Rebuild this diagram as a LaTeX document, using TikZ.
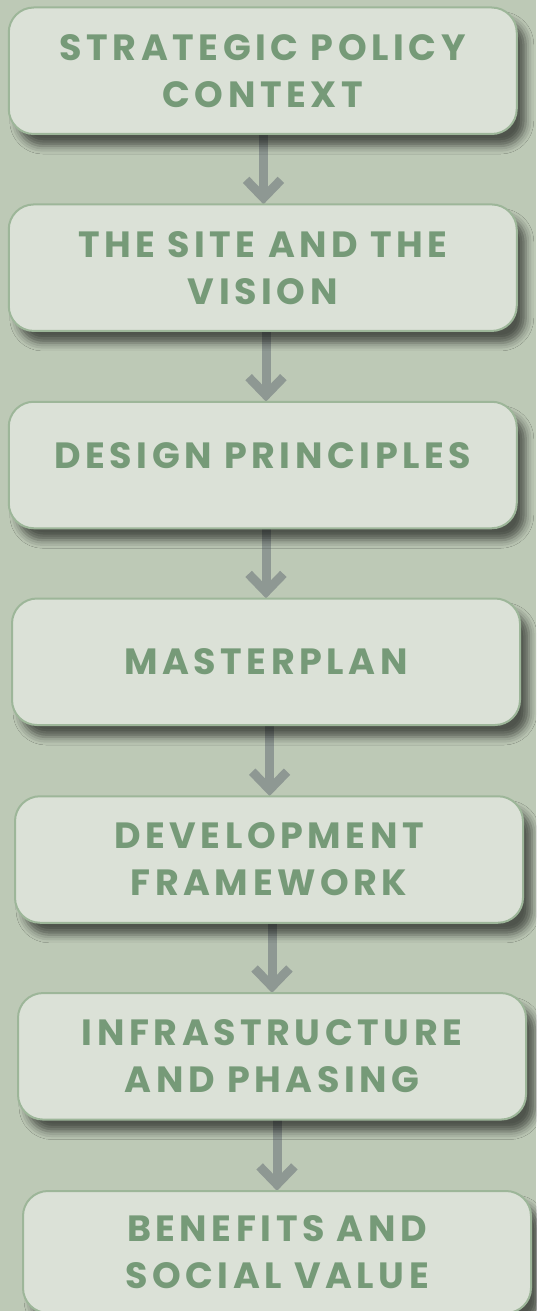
\documentclass[tikz,border=0pt]{standalone}
\usepackage{fontspec}
\setmainfont{Poppins}[LetterSpace=12.5]
\usetikzlibrary{calc,shadows.blur}
\definecolor{bgc}{HTML}{BDC9B6}
\definecolor{boxfill}{HTML}{DBE1D7}
\definecolor{boxline}{HTML}{9DB699}
\definecolor{txtc}{HTML}{769A78}
\definecolor{arrc}{HTML}{8E9893}
\tikzset{
  stagebox/.style={draw=boxline, line width=2pt, fill=boxfill, rounded corners=25pt,
    minimum width=508pt, minimum height=126.5pt, inner sep=0pt, align=center,
    text=txtc, font=\fontsize{36.5}{47}\selectfont\bfseries,
    blur shadow={shadow xshift=9pt, shadow yshift=-12pt, shadow blur radius=8pt, shadow opacity=58}},
  stemline/.style={draw=arrc, line width=9pt, line cap=butt},
  barbline/.style={draw=arrc, line width=9pt, line cap=butt, line join=miter},
}
\newcommand\flowarrow[3]{%
  \path (#2.north -| #3) coordinate (tipc);
  \draw[stemline] (#1.south -| #3) -- ($(tipc)+(0,-6.4)$);
  \draw[barbline] ($(tipc)+(-17.4,-24.4)$) -- ($(tipc)+(0,-6.4)$) -- ($(tipc)+(17.4,-24.4)$);
}
\begin{document}
\begin{tikzpicture}[x=1pt,y=-1pt]
\fill[bgc] (0,0) rectangle (536,1311);
\useasboundingbox (0,0) rectangle (536,1311);
% arrow x positions
\coordinate (x1) at (263.5,0);
\coordinate (x2) at (266,0);
\coordinate (x3) at (266,0);
\coordinate (x4) at (269.6,0);
\coordinate (x5) at (272,0);
\coordinate (x6) at (277,0);
% box centres (boxes drawn after arrows)
\path (262.75,70.75) coordinate (c1)
      (262.75,267.7) coordinate (c2)
      (262.75,465) coordinate (c3)
      (266,661.75) coordinate (c4)
      (269,859.5) coordinate (c5)
      (272,1056.3) coordinate (c6)
      (277,1252) coordinate (c7);
\path (c1) node[minimum width=508pt, minimum height=126.5pt] (p1) {}
      (c2) node[minimum width=508pt, minimum height=126.5pt] (p2) {}
      (c3) node[minimum width=508pt, minimum height=126.5pt] (p3) {}
      (c4) node[minimum width=508pt, minimum height=126.5pt] (p4) {}
      (c5) node[minimum width=508pt, minimum height=126.5pt] (p5) {}
      (c6) node[minimum width=508pt, minimum height=126.5pt] (p6) {}
      (c7) node[minimum width=508pt, minimum height=122pt] (p7) {};
\flowarrow{p1}{p2}{x1}
\flowarrow{p2}{p3}{x2}
\flowarrow{p3}{p4}{x3}
\flowarrow{p4}{p5}{x4}
\flowarrow{p5}{p6}{x5}
\flowarrow{p6}{p7}{x6}
\node[stagebox] (b1) at (c1) {STRATEGIC POLICY\\CONTEXT};
\node[stagebox] (b2) at (c2) {THE SITE AND THE\\VISION};
\node[stagebox, text depth=19pt] (b3) at (c3) {DESIGN PRINCIPLES};
\node[stagebox] (b4) at (c4) {MASTERPLAN};
\node[stagebox] (b5) at (c5) {DEVELOPMENT\\FRAMEWORK};
\node[stagebox] (b6) at (c6) {INFRASTRUCTURE\\AND PHASING};
\node[stagebox, minimum height=122pt] (b7) at (c7) {BENEFITS AND\\SOCIAL VALUE};
\end{tikzpicture}
\end{document}
